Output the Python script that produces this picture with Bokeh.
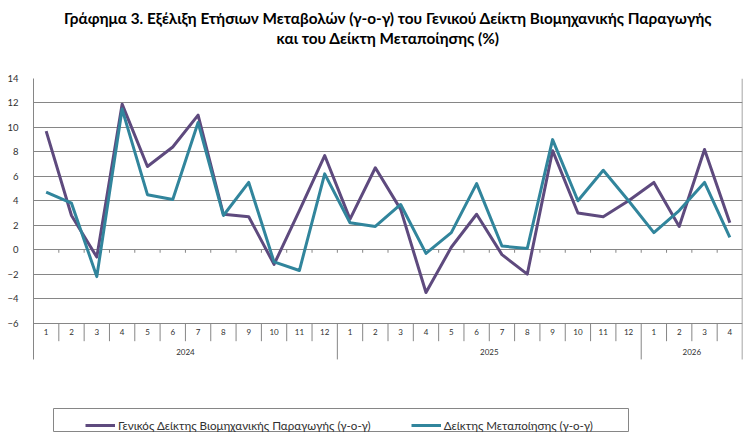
from bokeh.plotting import figure
from bokeh.models import (Range1d, FixedTicker, Title, Legend, LegendItem,
                          ColumnDataSource)
from bokeh.core.properties import value
from bokeh.embed import file_html
from bokeh.resources import INLINE

# ---------------- data ----------------
title_line1 = "Γράφημα 3. Εξέλιξη Ετήσιων Μεταβολών (γ-ο-γ) του Γενικού Δείκτη Βιομηχανικής Παραγωγής"
title_line2 = "και του Δείκτη Μεταποίησης (%)"
years = ["2024", "2025", "2026"]
months_per_year = [12, 12, 4]
month_labels = [str(m) for n in months_per_year for m in range(1, n + 1)]
series_names = ["Γενικός Δείκτης Βιομηχανικής Παραγωγής (γ-ο-γ)",
                "Δείκτης Μεταποίησης (γ-ο-γ)"]
general_index = [9.7, 2.8, -0.6, 11.9, 6.8, 8.4, 11.0, 2.9, 2.7, -1.2, 3.2, 7.7,
                 2.5, 6.7, 3.3, -3.5, 0.2, 2.9, -0.4, -2.0, 8.1, 3.0, 2.7, 4.0,
                 5.5, 1.9, 8.2, 2.2]
manufacturing = [4.7, 3.8, -2.2, 11.5, 4.5, 4.1, 10.4, 2.8, 5.5, -1.0, -1.7, 6.2,
                 2.2, 1.9, 3.7, -0.3, 1.4, 5.4, 0.3, 0.1, 9.0, 4.0, 6.5, 4.0,
                 1.4, 3.2, 5.5, 1.0]
y_ticks = list(range(-6, 16, 2))

# ---------------- style ----------------
FONT = "Lato"
GRID = "#868686"
TXT = "#303030"
PURPLE = "#5E4A7E"
TEAL = "#31859C"

n = len(month_labels)
xs = list(range(1, n + 1))
y_min, y_max = y_ticks[0], y_ticks[-1]
y_cat_bottom = y_min - 2.97      # bottom of the month/year label rows
y_span = 30.09                   # frame reaches the bottom of the canvas (legend area)
y_frame_bottom = y_max - y_span
FRAME_LEFT, FRAME_TOP, FRAME_W, FRAME_H = 33, 78, 709, 368


def px_to_x(px):
    return 0.5 + (px - FRAME_LEFT) * n / FRAME_W


def px_to_y(py):
    return y_max - (py - FRAME_TOP) * y_span / FRAME_H


p = figure(width=750, height=446, output_backend="svg", toolbar_location=None,
           title=None, x_axis_type=None,
           x_range=Range1d(0.5, n + 0.5), y_range=Range1d(y_frame_bottom, y_max),
           min_border_left=FRAME_LEFT, min_border_right=8, min_border_top=FRAME_TOP,
           min_border_bottom=0)
p.outline_line_color = None
p.background_fill_color = "white"
p.border_fill_color = "white"

# y axis
p.yaxis.ticker = FixedTicker(ticks=y_ticks)
p.yaxis.bounds = (y_cat_bottom, y_max)
p.yaxis.axis_line_color = GRID
p.yaxis.major_tick_line_color = None
p.yaxis.minor_tick_line_color = None
p.yaxis.major_label_standoff = 9
p.yaxis.major_label_text_font = FONT
p.yaxis.major_label_text_font_size = "9.5px"
p.yaxis.major_label_text_color = TXT
p.ygrid.ticker = FixedTicker(ticks=y_ticks)
p.ygrid.grid_line_color = GRID
p.ygrid.grid_line_width = 1
p.xgrid.visible = False

# right border of the chart area
p.segment(x0=[n + 0.5], y0=[y_cat_bottom], x1=[n + 0.5], y1=[y_max],
          line_color=GRID, line_width=1.5)

# category axis (months / years)
bounds = [i + 0.5 for i in range(1, n)]
year_ends = []
acc = 0
for c in months_per_year[:-1]:
    acc += c
    year_ends.append(acc + 0.5)
month_bounds = [b for b in bounds if b not in year_ends]

p.segment(x0=bounds, y0=[0] * len(bounds), x1=bounds, y1=[-0.25] * len(bounds),
          line_color=GRID, line_width=1)
p.segment(x0=month_bounds, y0=[y_min] * len(month_bounds), x1=month_bounds,
          y1=[y_min - 1.48] * len(month_bounds), line_color=GRID, line_width=1)
p.segment(x0=year_ends, y0=[y_min] * len(year_ends), x1=year_ends,
          y1=[y_cat_bottom] * len(year_ends), line_color=GRID, line_width=1)

p.text(x=xs, y=[y_min - 0.74] * n, text=month_labels, text_align="center",
       text_baseline="middle", text_font=value(FONT), text_font_size="8px",
       text_color=TXT)
year_centers = []
acc = 0
for c in months_per_year:
    year_centers.append(acc + (c + 1) / 2)
    acc += c
p.text(x=year_centers, y=[y_min - 2.4] * len(years), text=years, text_align="center",
       text_baseline="middle", text_font=value(FONT), text_font_size="8px",
       text_color=TXT)

# series
src = ColumnDataSource(dict(x=xs, g=general_index, m=manufacturing))
r1 = p.line("x", "g", source=src, line_color=PURPLE, line_width=3, line_join="round")
r2 = p.line("x", "m", source=src, line_color=TEAL, line_width=3, line_join="round")

# legend frame (a plain rectangle) and legend entries
p.quad(left=[px_to_x(53)], right=[px_to_x(628)], top=[px_to_y(408)],
       bottom=[px_to_y(431)], fill_alpha=0, line_color=GRID, line_width=1,
       level="underlay")
legend = Legend(items=[LegendItem(label=series_names[0], renderers=[r1]),
                       LegendItem(label=series_names[1], renderers=[r2])],
                orientation="horizontal", location=(52, 14),
                padding=5, spacing=40, margin=0, glyph_width=30, glyph_height=14,
                label_height=14, label_standoff=3, label_text_font=FONT,
                label_text_font_size="11.6px", label_text_color=TXT,
                border_line_color=None, background_fill_alpha=0)
p.add_layout(legend, "center")

# titles (stacked from the frame upward: spacer, line 2, line 1)
spacer = Title(text=" ", text_font_size="1px", standoff=29)
t2 = Title(text=title_line2, align="center", text_font=FONT, text_font_size="15.3px",
           text_font_style="bold", text_color="black", standoff=0)
t1 = Title(text=title_line1, align="center", text_font=FONT, text_font_size="15.3px",
           text_font_style="bold", text_color="black", standoff=0)
p.add_layout(spacer, "above")
p.add_layout(t2, "above")
p.add_layout(t1, "above")

open("out.html", "w").write(file_html(p, INLINE))
